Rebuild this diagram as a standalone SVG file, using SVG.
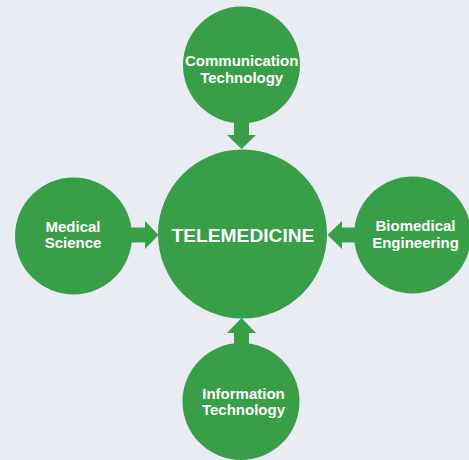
<svg xmlns="http://www.w3.org/2000/svg" width="469" height="460" viewBox="0 0 469 460">
<style>
.c{fill:#389e48}
.a{fill:#389e48}
.t{font-family:"Liberation Sans",Arial,sans-serif;font-weight:bold;fill:#fff;text-anchor:middle;font-size:15px}
.big{font-size:19.2px}
</style>
<rect width="469" height="460" fill="#e9ecf2"/>
<g id="connectors">
<polygon class="a" points="234,115 249,115 249,135 256,135 241.5,149 227,135 234,135"/>
<polygon class="a" points="234,350 249,350 249,333 256,333 241.5,318 227,333 234,333"/>
<polygon class="a" points="126,227.5 145,227.5 145,221 158.5,235 145,249 145,242.5 126,242.5"/>
<polygon class="a" points="360,227.5 342,227.5 342,221 327.5,235 342,249 342,242.5 360,242.5"/>
</g>
<g id="telemedicine">
<circle class="c" cx="242.5" cy="234" r="84.5"/>
<text class="t big" x="243" y="241.5">TELEMEDICINE</text>
</g>
<g id="communication">
<circle class="c" cx="241.5" cy="65" r="58.5"/>
<text class="t" x="241.7" y="65.5">Communication</text>
<text class="t" x="241.7" y="82.5">Technology</text>
</g>
<g id="medical">
<circle class="c" cx="73.5" cy="236" r="58.5"/>
<text class="t" x="73" y="232">Medical</text>
<text class="t" x="73" y="248">Science</text>
</g>
<g id="biomedical">
<circle class="c" cx="412.5" cy="235" r="58.5"/>
<text class="t" x="415.5" y="231">Biomedical</text>
<text class="t" x="415.5" y="248">Engineering</text>
</g>
<g id="information">
<circle class="c" cx="241" cy="401.5" r="58.5"/>
<text class="t" x="243.5" y="398.5">Information</text>
<text class="t" x="243.5" y="415">Technology</text>
</g>
</svg>
